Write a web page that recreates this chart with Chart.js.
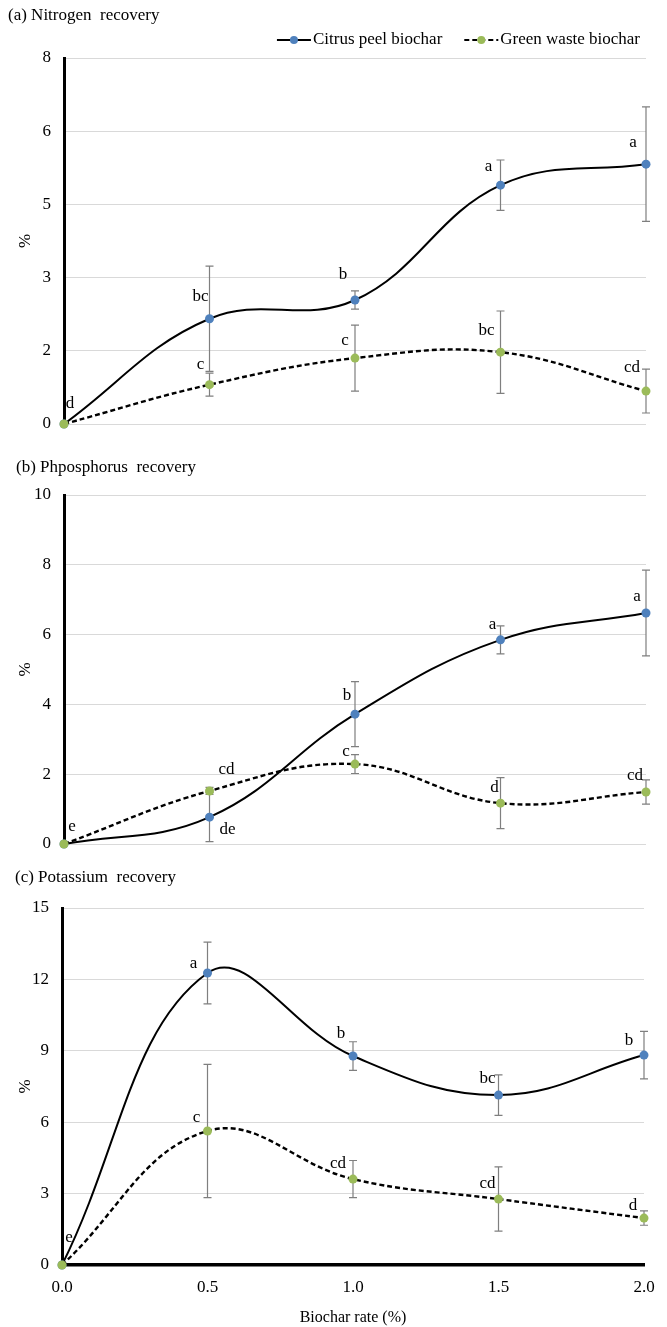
<!DOCTYPE html>
<html>
<head>
<meta charset="utf-8">
<script src="https://cdn.jsdelivr.net/npm/chart.js@4.4.1/dist/chart.umd.min.js"></script>
<style>
  html, body { margin: 0; padding: 0; background: #fff; }
  #wrap { position: relative; width: 667px; height: 1327px; overflow: hidden; }
  .panel { position: absolute; left: 0; width: 667px; }
</style>
</head>
<body>
<div id="wrap">
  <div class="panel" style="top:0;height:440px"><canvas id="chartN"></canvas></div>
  <div class="panel" style="top:440px;height:410px"><canvas id="chartP"></canvas></div>
  <div class="panel" style="top:850px;height:477px"><canvas id="chartK"></canvas></div>
</div>
<script>
const rates = [0, 0.5, 1.0, 1.5, 2.0];
const seriesNames = ['Citrus peel biochar', 'Green waste biochar'];

// (a) nitrogen
const nitroCitrus = [0, 2.30, 2.71, 5.22, 5.68];
const nitroCitrusErr = [0, 1.15, 0.2, 0.55, 1.25];
const nitroGreen = [0, 0.86, 1.44, 1.57, 0.72];
const nitroGreenErr = [0, 0.25, 0.72, 0.9, 0.48];
const nitroCitrusLetters = ['d', 'bc', 'b', 'a', 'a'];
const nitroGreenLetters = ['', 'c', 'c', 'bc', 'cd'];

// (b) phosphorus
const phosCitrus = [0, 0.77, 3.72, 5.85, 6.62];
const phosCitrusErr = [0, 0.7, 0.93, 0.4, 1.23];
const phosGreen = [0, 1.52, 2.29, 1.17, 1.49];
const phosGreenErr = [0, 0.1, 0.27, 0.73, 0.35];
const phosCitrusLetters = ['e', 'de', 'b', 'a', 'a'];
const phosGreenLetters = ['', 'cd', 'c', 'd', 'cd'];

// (c) potassium
const potCitrus = [0, 12.27, 8.78, 7.14, 8.82];
const potCitrusErr = [0, 1.3, 0.6, 0.85, 1.0];
const potGreen = [0, 5.63, 3.61, 2.77, 1.97];
const potGreenErr = [0, 2.8, 0.78, 1.35, 0.3];
const potCitrusLetters = ['e', 'a', 'b', 'bc', 'b'];
const potGreenLetters = ['', 'c', 'cd', 'cd', 'd'];

const FONT = 'Liberation Serif';
const BLUE = '#4f81bd';
const GREEN = '#9bbb59';

// where each letter sits relative to its point (px)
const tagPos = {
  nitro: {
    citrus: [[6, -20], [-9, -22], [-12, -25], [-12, -19], [-13, -22]],
    green: [null, [-9, -20], [-10, -18], [-14, -22], [-14, -24]]
  },
  phos: {
    citrus: [[8, -17], [18, 12], [-8, -19], [-8, -15], [-9, -16]],
    green: [null, [17, -21], [-9, -13], [-6, -16], [-11, -16]]
  },
  pot: {
    citrus: [[7, -27], [-14, -9], [-12, -23], [-11, -17], [-15, -15]],
    green: [null, [-11, -13], [-15, -16], [-11, -16], [-11, -13]]
  }
};

function pts(vals) {
  return rates.map((r, i) => ({x: r, y: vals[i]}));
}

const errorBars = {
  id: 'errorBars',
  beforeDatasetsDraw(chart) {
    const {ctx, scales: {x, y}} = chart;
    ctx.save();
    ctx.strokeStyle = '#7f7f7f';
    ctx.lineWidth = 1.2;
    chart.data.datasets.forEach(ds => {
      ds.data.forEach((p, i) => {
        const e = ds.errors[i];
        if (!e) return;
        const px = x.getPixelForValue(p.x);
        const top = y.getPixelForValue(p.y + e);
        const bot = y.getPixelForValue(p.y - e);
        ctx.beginPath();
        ctx.moveTo(px, top); ctx.lineTo(px, bot);
        ctx.moveTo(px - 4, top); ctx.lineTo(px + 4, top);
        ctx.moveTo(px - 4, bot); ctx.lineTo(px + 4, bot);
        ctx.stroke();
      });
    });
    ctx.restore();
  }
};

const letterTags = {
  id: 'letterTags',
  afterDatasetsDraw(chart) {
    const {ctx} = chart;
    ctx.save();
    ctx.font = '17px "' + FONT + '"';
    ctx.fillStyle = '#000';
    ctx.textAlign = 'center';
    ctx.textBaseline = 'middle';
    chart.data.datasets.forEach((ds, di) => {
      chart.getDatasetMeta(di).data.forEach((pt, i) => {
        const t = ds.letters[i];
        if (!t) return;
        const off = ds.tagOffsets[i];
        ctx.fillText(t, pt.x + off[0], pt.y + off[1]);
      });
    });
    ctx.restore();
  }
};

const panelTitle = {
  id: 'panelTitle',
  afterDraw(chart, args, opts) {
    const {ctx} = chart;
    ctx.save();
    ctx.font = '17px "' + FONT + '"';
    ctx.fillStyle = '#000';
    ctx.textAlign = 'left';
    ctx.textBaseline = 'middle';
    ctx.fillText(opts.text, opts.x, opts.y);
    ctx.restore();
  }
};

const lineLegend = {
  id: 'lineLegend',
  afterDraw(chart, args, opts) {
    if (!opts.show) return;
    const {ctx} = chart;
    ctx.save();
    ctx.font = '17px "' + FONT + '"';
    ctx.textBaseline = 'middle';
    ctx.textAlign = 'left';
    const y = opts.y;
    let right = opts.right;
    const items = chart.data.datasets.slice().reverse();
    items.forEach(ds => {
      const tw = ctx.measureText(ds.label).width;
      const tx = right - tw;
      const x1 = tx - 36, x2 = tx - 2;
      ctx.strokeStyle = '#000';
      ctx.lineWidth = 2;
      ctx.setLineDash(ds.borderDash || []);
      ctx.beginPath(); ctx.moveTo(x1, y); ctx.lineTo(x2, y); ctx.stroke();
      ctx.setLineDash([]);
      ctx.fillStyle = ds.pointBackgroundColor;
      ctx.beginPath(); ctx.arc((x1 + x2) / 2, y, 4, 0, Math.PI * 2); ctx.fill();
      ctx.fillStyle = '#000';
      ctx.fillText(ds.label, tx, y);
      right = x1 - 22;
    });
    ctx.restore();
  }
};

function makePanel(id, cfg) {
  const showX = !!cfg.showX;
  const tickFont = {family: FONT, size: 17};
  return new Chart(document.getElementById(id), {
    type: 'line',
    data: {
      datasets: [
        {
          label: seriesNames[0],
          data: pts(cfg.citrus),
          errors: cfg.citrusErr,
          letters: cfg.citrusLetters,
          tagOffsets: cfg.tags.citrus,
          order: 1,
          borderColor: '#000',
          borderWidth: 2,
          tension: 0.4,
          pointRadius: 4.5,
          pointBorderWidth: 0,
          pointBackgroundColor: BLUE,
          clip: false
        },
        {
          label: seriesNames[1],
          data: pts(cfg.green),
          errors: cfg.greenErr,
          letters: cfg.greenLetters,
          tagOffsets: cfg.tags.green,
          order: 0,
          borderColor: '#000',
          borderWidth: 2.4,
          borderDash: [5, 3],
          tension: 0.4,
          pointRadius: 4.5,
          pointBorderWidth: 0,
          pointBackgroundColor: GREEN,
          clip: false
        }
      ]
    },
    options: {
      responsive: true,
      maintainAspectRatio: false,
      animation: false,
      events: [],
      layout: {padding: cfg.padding},
      scales: {
        x: {
          type: 'linear',
          min: 0,
          max: 2,
          display: showX,
          afterFit(s) {
            if (showX) s.height = cfg.xHeight;
            s.paddingLeft = 0; s.paddingRight = 0;
          },
          ticks: {
            stepSize: 0.5,
            color: '#000',
            font: tickFont,
            padding: 12,
            callback: v => v.toFixed(1)
          },
          grid: {display: false, drawTicks: false},
          border: {display: true, color: '#000', width: 3.5},
          title: {
            display: showX,
            text: 'Biochar rate (%)',
            color: '#000',
            font: {family: FONT, size: 16},
            padding: {top: 0, bottom: 0}
          }
        },
        y: {
          min: 0,
          max: cfg.yMax,
          afterFit(s) {
            s.width = cfg.axisX;
            s.paddingTop = 0; s.paddingBottom = 0;
          },
          ticks: {
            stepSize: cfg.yStep,
            color: '#000',
            font: tickFont,
            padding: 13,
            callback: v => Math.round(v)
          },
          grid: {color: '#d9d9d9', lineWidth: 1, drawTicks: false},
          border: {display: true, color: '#000', width: 3},
          title: {
            display: true,
            text: '%',
            color: '#000',
            font: tickFont,
            padding: {top: 15, bottom: 0}
          }
        }
      },
      plugins: {
        legend: {display: false},
        tooltip: {enabled: false},
        panelTitle: cfg.title,
        lineLegend: {show: !!cfg.legend, y: 40, right: 640}
      }
    },
    plugins: [errorBars, letterTags, panelTitle, lineLegend]
  });
}

makePanel('chartN', {
  citrus: nitroCitrus, citrusErr: nitroCitrusErr, citrusLetters: nitroCitrusLetters,
  green: nitroGreen, greenErr: nitroGreenErr, greenLetters: nitroGreenLetters,
  tags: tagPos.nitro,
  yMax: 8, yStep: 1.6, axisX: 64,
  padding: {top: 58, right: 21, bottom: 16, left: 0},
  title: {text: '(a) Nitrogen  recovery', x: 8, y: 16},
  legend: true
});

makePanel('chartP', {
  citrus: phosCitrus, citrusErr: phosCitrusErr, citrusLetters: phosCitrusLetters,
  green: phosGreen, greenErr: phosGreenErr, greenLetters: phosGreenLetters,
  tags: tagPos.phos,
  yMax: 10, yStep: 2, axisX: 64,
  padding: {top: 55, right: 21, bottom: 6, left: 0},
  title: {text: '(b) Phposphorus  recovery', x: 16, y: 28}
});

makePanel('chartK', {
  citrus: potCitrus, citrusErr: potCitrusErr, citrusLetters: potCitrusLetters,
  green: potGreen, greenErr: potGreenErr, greenLetters: potGreenLetters,
  tags: tagPos.pot,
  yMax: 15, yStep: 3, axisX: 62,
  showX: true, xHeight: 62,
  padding: {top: 58, right: 23, bottom: 0, left: 0},
  title: {text: '(c) Potassium  recovery', x: 15, y: 28}
});
</script>
</body>
</html>
